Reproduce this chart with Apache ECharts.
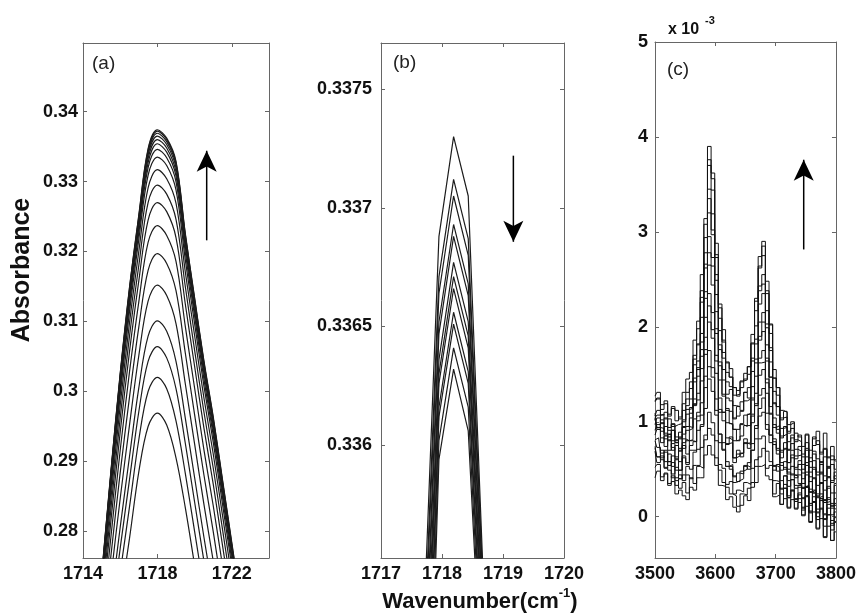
<!DOCTYPE html>
<html>
<head>
<meta charset="utf-8">
<script src="https://cdn.jsdelivr.net/npm/echarts@6/dist/echarts.min.js"></script>
<style>
html,body{margin:0;padding:0;background:#fff;}
#chart{width:859px;height:615px;}
</style>
</head>
<body>
<div id="chart"></div>
<script>
// ---------- Panel (a) data ----------
const xA = [1714.5,1715,1715.5,1716,1716.5,1717,1717.5,1718,1718.5,1719,1719.5,1720,1720.5,1721,1721.5,1722,1722.5];
const a01 = [0.2419,0.2519,0.2609,0.2700,0.2790,0.2885,0.2950,0.2969,0.2952,0.2905,0.2834,0.2752,0.2670,0.2589,0.2509,0.2429,0.2349];
const a02 = [0.2441,0.2546,0.2644,0.2741,0.2835,0.2931,0.3000,0.3020,0.3004,0.2958,0.2883,0.2800,0.2717,0.2636,0.2555,0.2474,0.2392];
const a03 = [0.2460,0.2570,0.2674,0.2776,0.2874,0.2971,0.3043,0.3064,0.3048,0.3004,0.2926,0.2842,0.2758,0.2677,0.2595,0.2512,0.2430];
const a04 = [0.2476,0.2590,0.2699,0.2806,0.2907,0.3005,0.3079,0.3101,0.3086,0.3043,0.2962,0.2877,0.2792,0.2711,0.2628,0.2545,0.2461];
const a05 = [0.2498,0.2617,0.2734,0.2847,0.2952,0.3051,0.3129,0.3152,0.3137,0.3097,0.3011,0.2925,0.2839,0.2758,0.2674,0.2589,0.2505];
const a06 = [0.2518,0.2642,0.2765,0.2884,0.2992,0.3092,0.3173,0.3197,0.3183,0.3144,0.3055,0.2967,0.2881,0.2800,0.2714,0.2629,0.2543];
const a07 = [0.2535,0.2663,0.2792,0.2916,0.3028,0.3128,0.3213,0.3237,0.3223,0.3186,0.3093,0.3005,0.2917,0.2837,0.2751,0.2664,0.2577];
const a08 = [0.2549,0.2681,0.2815,0.2942,0.3057,0.3158,0.3245,0.3270,0.3257,0.3220,0.3125,0.3036,0.2948,0.2868,0.2780,0.2693,0.2605];
const a09 = [0.2560,0.2694,0.2832,0.2962,0.3079,0.3180,0.3270,0.3295,0.3282,0.3246,0.3150,0.3059,0.2971,0.2891,0.2803,0.2715,0.2627];
const a10 = [0.2569,0.2706,0.2847,0.2980,0.3098,0.3200,0.3291,0.3317,0.3304,0.3269,0.3171,0.3080,0.2991,0.2911,0.2823,0.2734,0.2645];
const a11 = [0.2577,0.2716,0.2859,0.2995,0.3114,0.3217,0.3309,0.3335,0.3323,0.3288,0.3188,0.3097,0.3008,0.2928,0.2839,0.2750,0.2661];
const a12 = [0.2582,0.2722,0.2867,0.3003,0.3124,0.3227,0.3320,0.3346,0.3334,0.3300,0.3199,0.3108,0.3018,0.2938,0.2849,0.2759,0.2670];
const a13 = [0.2585,0.2726,0.2872,0.3010,0.3131,0.3234,0.3327,0.3354,0.3342,0.3308,0.3207,0.3115,0.3026,0.2945,0.2856,0.2766,0.2677];
const a14 = [0.2588,0.2730,0.2876,0.3015,0.3137,0.3239,0.3333,0.3360,0.3348,0.3314,0.3212,0.3121,0.3031,0.2951,0.2861,0.2772,0.2682];
const a15 = [0.2590,0.2732,0.2880,0.3019,0.3141,0.3244,0.3338,0.3365,0.3353,0.3320,0.3217,0.3125,0.3036,0.2956,0.2866,0.2776,0.2686];
const a16 = [0.2592,0.2734,0.2882,0.3022,0.3144,0.3247,0.3342,0.3369,0.3357,0.3324,0.3221,0.3129,0.3039,0.2959,0.2869,0.2779,0.2689];
const a17 = [0.2594,0.2736,0.2884,0.3024,0.3147,0.3250,0.3345,0.3372,0.3360,0.3327,0.3224,0.3132,0.3042,0.2962,0.2872,0.2782,0.2692];
const a18 = [0.2594,0.2737,0.2886,0.3026,0.3149,0.3252,0.3347,0.3374,0.3362,0.3329,0.3226,0.3134,0.3044,0.2964,0.2874,0.2784,0.2694];

// ---------- Panel (b) data ----------
const xB = [1717.71,1717.95,1718.19,1718.43,1718.67];
const b01 = [0.33530,0.33688,0.33730,0.33705,0.33548];
const b02 = [0.33518,0.33671,0.33712,0.33687,0.33542];
const b03 = [0.33510,0.33664,0.33705,0.33680,0.33538];
const b04 = [0.33498,0.33652,0.33693,0.33668,0.33532];
const b05 = [0.33490,0.33647,0.33688,0.33663,0.33528];
const b06 = [0.33478,0.33636,0.33677,0.33652,0.33522];
const b07 = [0.33468,0.33630,0.33671,0.33646,0.33517];
const b08 = [0.33458,0.33626,0.33666,0.33641,0.33512];
const b09 = [0.33444,0.33616,0.33656,0.33631,0.33505];
const b10 = [0.33434,0.33612,0.33651,0.33626,0.33500];
const b11 = [0.33418,0.33602,0.33641,0.33616,0.33494];
const b12 = [0.33401,0.33594,0.33632,0.33606,0.33487];

// ---------- Panel (c) data (x 10^-3) ----------
const xC = [3500,3506,3512,3518,3524,3530,3536,3542,3548,3554,3560,3566,3572,3578,3584,3590,3596,3602,3608,3614,3620,3626,3632,3638,3644,3650,3656,3662,3668,3674,3680,3686,3692,3698,3704,3710,3716,3722,3728,3734,3740,3746,3752,3758,3764,3770,3776,3782,3788,3794,3800];
const c12 = [1.22,1.25,1.13,1.19,1.08,1.16,1.12,1.03,1.31,1.45,1.52,1.86,2.06,2.55,3.14,3.90,3.62,2.88,2.24,1.97,1.63,1.56,1.36,1.33,1.42,1.51,1.58,1.92,2.30,2.74,2.90,2.48,2.03,1.55,1.36,1.12,1.10,0.97,0.99,0.88,0.84,0.74,0.86,0.70,0.82,0.90,0.66,0.88,0.62,0.74,0.60];
const c18 = [1.04,1.07,1.08,1.03,1.03,0.95,0.97,0.98,1.12,1.24,1.42,1.70,1.98,2.38,3.08,3.76,3.56,2.76,2.20,1.86,1.62,1.47,1.36,1.27,1.43,1.44,1.58,1.83,2.27,2.64,2.85,2.38,2.02,1.46,1.36,1.02,1.11,0.88,1.00,0.79,0.86,0.63,0.87,0.58,0.84,0.76,0.68,0.71,0.63,0.60,0.58];
const c11 = [0.97,1.04,0.90,0.95,0.84,0.91,0.78,0.83,1.02,1.17,1.24,1.60,1.81,2.31,2.94,3.70,3.44,2.73,2.09,1.84,1.52,1.47,1.28,1.29,1.36,1.45,1.50,1.82,2.17,2.62,2.75,2.35,1.93,1.46,1.28,1.04,1.05,0.90,0.93,0.81,0.79,0.66,0.78,0.62,0.75,0.80,0.57,0.72,0.52,0.64,0.50];
const c10 = [1.27,1.31,1.18,1.22,1.06,1.14,1.01,1.05,1.19,1.31,1.35,1.66,1.82,2.26,2.78,3.45,3.19,2.55,1.96,1.73,1.42,1.37,1.17,1.16,1.21,1.31,1.36,1.67,2.01,2.43,2.55,2.17,1.78,1.32,1.16,0.93,0.94,0.79,0.83,0.71,0.69,0.55,0.70,0.52,0.66,0.61,0.46,0.63,0.42,0.55,0.40];
const c17 = [1.04,0.92,1.02,0.88,0.80,0.91,0.78,0.82,0.94,1.08,1.15,1.46,1.64,2.10,2.66,3.35,3.02,2.49,1.81,1.67,1.29,1.34,1.04,1.16,1.12,1.31,1.25,1.64,1.87,2.38,2.45,2.03,1.75,1.20,1.16,0.83,0.95,0.70,0.86,0.61,0.74,0.46,0.72,0.42,0.69,0.47,0.58,0.43,0.53,0.38,0.47];
const c09 = [0.74,0.63,0.70,0.58,0.66,0.53,0.60,0.49,0.82,0.80,1.04,1.18,1.57,1.84,2.62,3.20,2.97,2.34,1.76,1.55,1.25,1.22,1.03,1.06,1.11,1.22,1.24,1.53,1.82,2.24,2.35,1.99,1.63,1.19,1.07,0.85,0.87,0.71,0.77,0.64,0.65,0.50,0.63,0.47,0.59,0.44,0.55,0.38,0.51,0.36,0.43];
const c08 = [1.06,1.12,0.98,1.04,0.91,0.97,0.84,0.89,1.00,1.13,1.14,1.42,1.55,1.93,2.37,2.95,2.73,2.16,1.63,1.44,1.14,1.11,0.92,0.92,0.98,1.07,1.09,1.37,1.66,2.05,2.15,1.81,1.47,1.04,0.92,0.70,0.72,0.57,0.62,0.50,0.49,0.35,0.47,0.29,0.41,0.24,0.35,0.17,0.30,0.12,0.19];
const c16 = [1.03,0.94,0.93,0.86,0.87,0.80,0.80,0.72,0.95,0.95,1.09,1.24,1.48,1.76,2.30,2.78,2.64,1.98,1.59,1.29,1.12,0.98,0.92,0.80,0.97,0.95,1.08,1.25,1.62,1.90,2.05,1.67,1.47,0.94,0.96,0.62,0.78,0.50,0.70,0.44,0.59,0.30,0.57,0.26,0.52,0.21,0.47,0.15,0.42,0.11,0.33];
const c07 = [0.86,0.92,0.78,0.85,0.70,0.77,0.63,0.70,0.78,0.91,0.93,1.19,1.30,1.69,2.10,2.65,2.44,1.93,1.44,1.27,0.99,0.97,0.80,0.81,0.85,0.96,0.96,1.23,1.48,1.86,1.95,1.64,1.36,0.97,0.88,0.68,0.72,0.57,0.65,0.52,0.55,0.40,0.54,0.37,0.50,0.33,0.45,0.28,0.41,0.25,0.35];
const c06 = [1.21,1.24,1.07,1.10,0.94,0.98,0.81,0.84,0.87,0.95,0.94,1.17,1.23,1.56,1.89,2.35,2.15,1.70,1.25,1.10,0.83,0.81,0.62,0.64,0.67,0.77,0.78,1.06,1.30,1.67,1.75,1.45,1.16,0.79,0.70,0.49,0.52,0.38,0.45,0.33,0.34,0.19,0.31,0.12,0.25,0.05,0.17,-0.02,0.09,-0.09,-0.01];
const c15 = [0.91,0.97,0.83,0.74,0.81,0.73,0.61,0.69,0.72,0.80,0.81,1.03,1.10,1.43,1.76,2.22,1.97,1.64,1.13,1.10,0.76,0.84,0.57,0.70,0.63,0.82,0.72,1.08,1.19,1.62,1.63,1.41,1.08,0.82,0.66,0.57,0.50,0.47,0.44,0.43,0.35,0.31,0.33,0.26,0.28,0.20,0.22,0.15,0.16,0.09,0.08];
const c05 = [0.69,0.57,0.64,0.51,0.58,0.45,0.52,0.40,0.62,0.57,0.75,0.79,1.06,1.20,1.71,2.05,1.88,1.51,1.10,1.01,0.77,0.78,0.62,0.66,0.67,0.78,0.76,0.99,1.17,1.49,1.55,1.30,1.09,0.76,0.72,0.54,0.58,0.45,0.53,0.41,0.44,0.30,0.44,0.26,0.40,0.22,0.36,0.18,0.32,0.14,0.25];
const c04 = [1.09,0.94,0.99,0.82,0.87,0.70,0.75,0.58,0.75,0.66,0.80,0.79,1.01,1.07,1.48,1.75,1.57,1.24,0.87,0.78,0.53,0.53,0.36,0.38,0.40,0.53,0.50,0.77,0.96,1.28,1.35,1.09,0.86,0.53,0.48,0.30,0.34,0.20,0.28,0.16,0.19,0.07,0.22,0.06,0.21,0.04,0.19,0.03,0.18,0.02,0.14];
const c14 = [0.80,0.73,0.62,0.68,0.58,0.64,0.49,0.49,0.64,0.55,0.70,0.70,0.91,0.97,1.36,1.58,1.47,1.12,0.87,0.70,0.58,0.50,0.43,0.37,0.48,0.50,0.57,0.70,0.93,1.14,1.25,0.97,0.86,0.49,0.55,0.29,0.43,0.22,0.39,0.18,0.31,0.09,0.32,0.05,0.28,0.00,0.24,-0.03,0.20,-0.07,0.12];
const c03 = [0.41,0.48,0.38,0.45,0.35,0.43,0.33,0.40,0.44,0.53,0.50,0.68,0.71,0.95,1.14,1.45,1.32,1.07,0.78,0.71,0.53,0.55,0.42,0.46,0.45,0.54,0.52,0.70,0.82,1.06,1.10,0.92,0.78,0.54,0.52,0.38,0.43,0.32,0.39,0.30,0.33,0.20,0.31,0.14,0.25,0.08,0.19,0.02,0.13,-0.04,0.05];
const c02 = [0.81,0.83,0.67,0.70,0.54,0.57,0.41,0.44,0.38,0.44,0.40,0.54,0.54,0.73,0.86,1.10,0.99,0.80,0.55,0.51,0.34,0.37,0.24,0.28,0.26,0.36,0.34,0.51,0.60,0.82,0.85,0.69,0.58,0.38,0.37,0.24,0.30,0.20,0.27,0.19,0.23,0.10,0.21,0.04,0.15,-0.03,0.08,-0.10,0.02,-0.14,-0.06];
const c13 = [0.72,0.63,0.60,0.52,0.49,0.41,0.38,0.30,0.36,0.25,0.41,0.35,0.53,0.51,0.81,0.93,0.86,0.62,0.49,0.36,0.31,0.24,0.22,0.11,0.24,0.23,0.30,0.36,0.53,0.63,0.72,0.51,0.54,0.24,0.35,0.13,0.30,0.09,0.28,0.08,0.25,0.01,0.22,-0.06,0.16,-0.13,0.09,-0.21,0.02,-0.25,-0.05];
const c01 = [0.52,0.55,0.42,0.46,0.33,0.37,0.24,0.28,0.22,0.18,0.31,0.28,0.41,0.41,0.65,0.75,0.65,0.54,0.33,0.32,0.18,0.21,0.10,0.05,0.12,0.22,0.17,0.31,0.36,0.53,0.55,0.43,0.39,0.21,0.23,0.13,0.19,0.10,0.18,0.09,0.15,0.02,0.11,-0.05,0.05,-0.12,-0.02,-0.22,-0.10,-0.25,-0.16];

// ---------- Tick values ----------
const ticksAX = [1714,1718,1722];
const ticksAY = [0.28,0.29,0.30,0.31,0.32,0.33,0.34];
const ticksBX = [1717,1718,1719,1720];
const ticksBY = [0.336,0.3365,0.337,0.3375];
const ticksCX = [3500,3600,3700,3800];
const ticksCY = [0,1,2,3,4,5];

// ---------- Arrows (data coords: tail, tip) ----------
const arrowA = [[1720.65,0.3216],[1720.65,0.3344]];
const arrowB = [[1719.17,0.33722],[1719.17,0.336857]];
const arrowC = [[3746.5,2.815],[3746.5,3.76]];

const FONT = "'Liberation Sans', Arial, sans-serif";
const AX = '#666';
const fmt = v => String(v);

function xAx(gi, min, max, ticks, pos, showLabel){
  return {type:'value', gridIndex:gi, position:pos, min:min, max:max,
    axisLine:{show:true, onZero:false, lineStyle:{color:AX, width:1}},
    axisTick:{show:true, inside:true, length:4, customValues:ticks, lineStyle:{color:AX}},
    axisLabel:{show:showLabel, customValues:ticks, formatter:fmt, color:'#111', fontSize:18, fontWeight:'bold', fontFamily:FONT, margin:7},
    splitLine:{show:false}};
}
function yAx(gi, min, max, ticks, pos, showLabel, margin){
  return {type:'value', gridIndex:gi, position:pos, min:min, max:max,
    axisLine:{show:true, onZero:false, lineStyle:{color:AX, width:1}},
    axisTick:{show:true, inside:true, length:4, customValues:ticks, lineStyle:{color:AX}},
    axisLabel:{show:showLabel, customValues:ticks, formatter:fmt, color:'#111', fontSize:18, fontWeight:'bold', fontFamily:FONT, margin:margin},
    splitLine:{show:false}};
}

const series = [];
function addLines(xs, arrs, xi, yi, opts){
  arrs.forEach(arr => {
    series.push(Object.assign({type:'line', xAxisIndex:xi, yAxisIndex:yi, showSymbol:false, silent:true, animation:false,
      clip:true, data: xs.map((x,i)=>[x, arr[i]])}, opts));
  });
}
function addArrow(pts, xi, yi, rot){
  series.push({type:'line', xAxisIndex:xi, yAxisIndex:yi, silent:true, animation:false, clip:false,
    lineStyle:{color:'#000', width:1.5}, itemStyle:{color:'#000'}, symbolKeepAspect:true,
    data:[{value:pts[0], symbol:'none'}, {value:pts[1], symbol:'arrow', symbolSize:[15,21], symbolRotate:rot}],
    showSymbol:true, z:5});
}
addLines(xA, [a01,a02,a03,a04,a05,a06,a07,a08,a09,a10,a11,a12,a13,a14,a15,a16,a17,a18], 0, 0,
  {smooth:0.35, lineStyle:{color:'#1c1c1c', width:1.2}});
addLines(xB, [b01,b02,b03,b04,b05,b06,b07,b08,b09,b10,b11,b12], 2, 2,
  {lineStyle:{color:'#1c1c1c', width:1.2}});
addLines(xC, [c01,c13,c02,c03,c14,c04,c05,c15,c06,c07,c16,c08,c09,c17,c10,c11,c18,c12], 4, 4,
  {step:'middle', lineStyle:{color:'#111', width:1}});
addArrow(arrowA, 0, 0, 0);
addArrow(arrowB, 2, 2, 180);
addArrow(arrowC, 4, 4, 0);

const option = {
  backgroundColor:'#fff',
  animation:false,
  grid:[
    {left:83, top:43, width:186, height:515},
    {left:381, top:43, width:183, height:515},
    {left:655, top:42, width:187, height:516}
  ],
  xAxis:[
    xAx(0,1714,1724,ticksAX,'bottom',true), xAx(0,1714,1724,ticksAX,'top',false),
    xAx(1,1717,1720,ticksBX,'bottom',true), xAx(1,1717,1720,ticksBX,'top',false),
    xAx(2,3500,3800,ticksCX,'bottom',true), xAx(2,3500,3800,ticksCX,'top',false)
  ],
  yAxis:[
    yAx(0,0.2762,0.3498,ticksAY,'left',true,5), yAx(0,0.2762,0.3498,ticksAY,'right',false,5),
    yAx(1,0.335524,0.337695,ticksBY,'left',true,9), yAx(1,0.335524,0.337695,ticksBY,'right',false,9),
    yAx(2,-0.435,5,ticksCY,'left',true,7), yAx(2,-0.435,5,ticksCY,'right',false,7)
  ],
  graphic:[
    {type:'text', x:22, y:270, rotation:Math.PI/2, style:{text:'Absorbance', font:"bold 25px 'Liberation Sans', Arial, sans-serif", fill:'#111', textAlign:'center', textVerticalAlign:'middle'}},
    {type:'text', x:480, y:600, style:{text:'{n|Wavenumber(cm}{s|-1}{n|)}', textAlign:'center', textVerticalAlign:'middle',
      rich:{n:{fontSize:22, fontWeight:'bold', fontFamily:FONT, fill:'#111', lineHeight:26, verticalAlign:'bottom'},
            s:{fontSize:13, fontWeight:'bold', fontFamily:FONT, fill:'#111', lineHeight:14, verticalAlign:'top'}}}},
    {type:'text', x:92, y:64, style:{text:'(a)', font:"19px 'Liberation Sans', Arial, sans-serif", fill:'#222', textVerticalAlign:'middle'}},
    {type:'text', x:393, y:63, style:{text:'(b)', font:"19px 'Liberation Sans', Arial, sans-serif", fill:'#222', textVerticalAlign:'middle'}},
    {type:'text', x:667, y:70, style:{text:'(c)', font:"19px 'Liberation Sans', Arial, sans-serif", fill:'#222', textVerticalAlign:'middle'}},
    {type:'text', x:668, y:30, style:{text:'x 10', font:"bold 16px 'Liberation Sans', Arial, sans-serif", fill:'#111', textVerticalAlign:'middle'}},
    {type:'text', x:705, y:21, style:{text:'-3', font:"bold 11px 'Liberation Sans', Arial, sans-serif", fill:'#111', textVerticalAlign:'middle'}}
  ],
  series: series
};

const chart = echarts.init(document.getElementById('chart'), null, {renderer:'canvas'});
chart.setOption(option);
</script>
</body>
</html>
